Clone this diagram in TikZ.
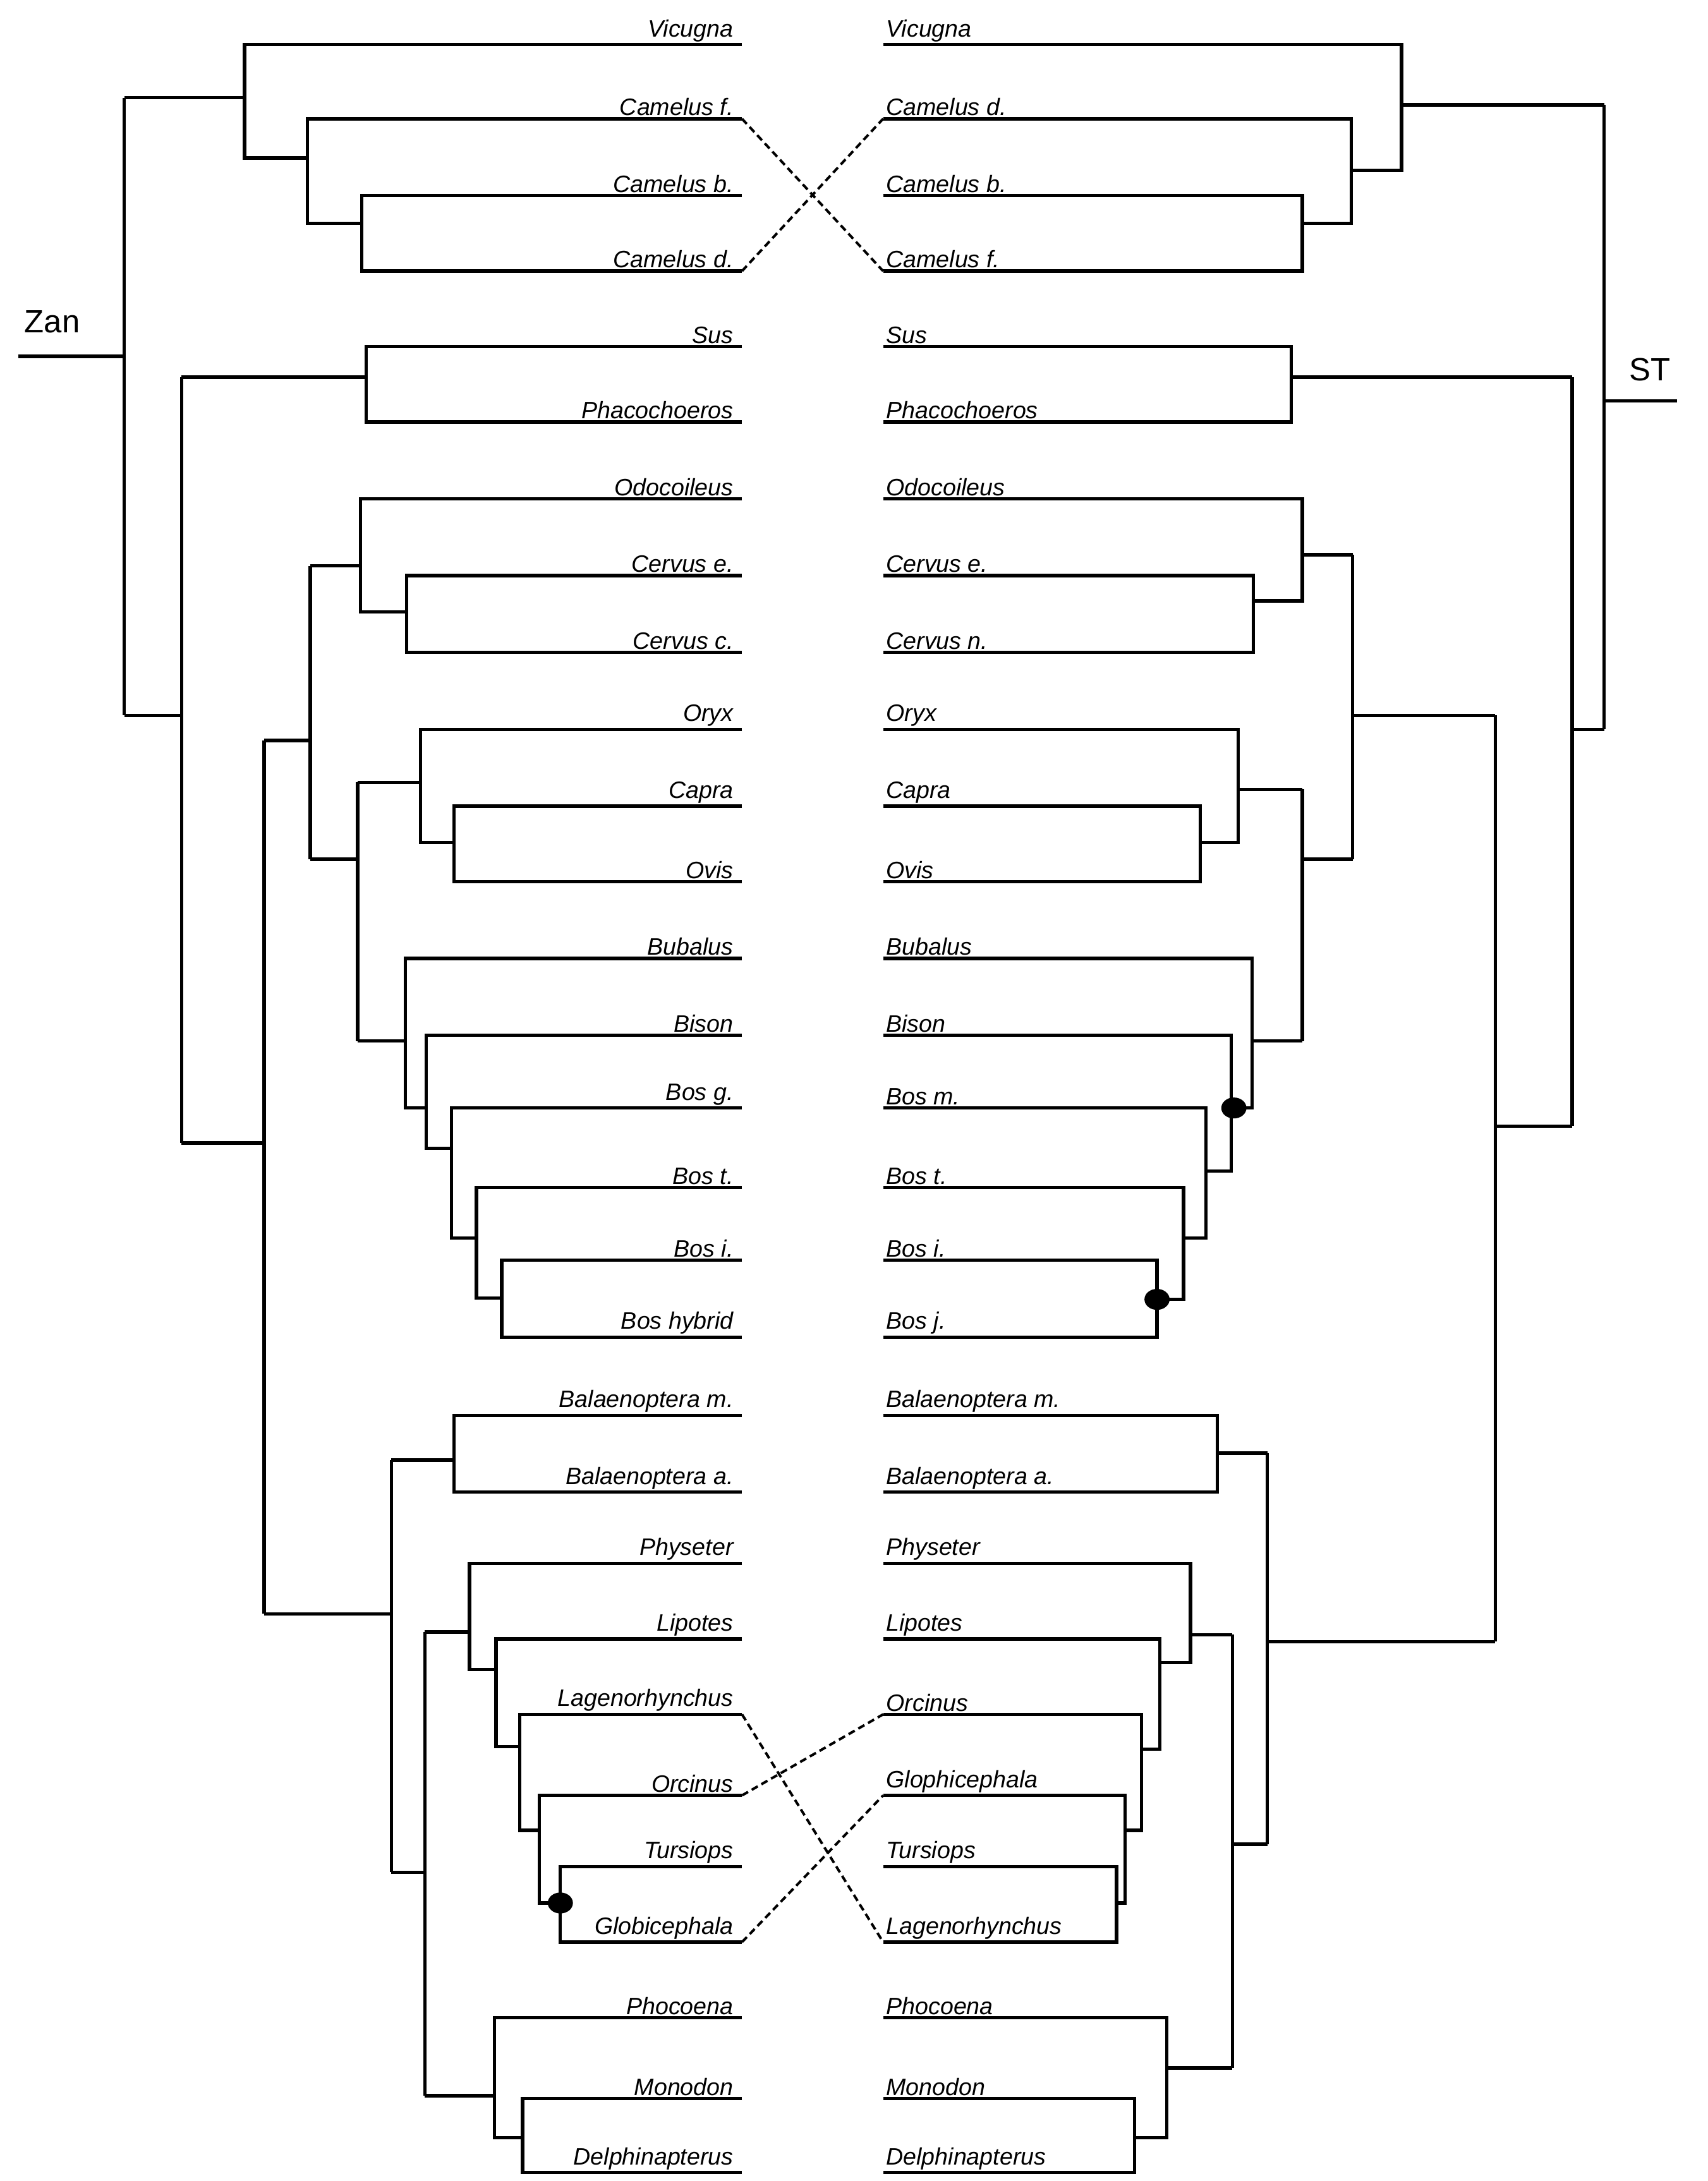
\documentclass[tikz,border=0pt]{standalone}
\usepackage{fontspec}
\setmainfont{Liberation Sans}
\begin{document}
\begin{tikzpicture}[x=1pt,y=-1pt,line width=2.4pt,
 tl/.style={anchor=south east,inner sep=1pt,font=\fontsize{17}{17}\selectfont\itshape},
 tr/.style={anchor=south west,inner sep=1pt,font=\fontsize{17}{17}\selectfont\itshape},
 dsh/.style={dashed,line width=1.8pt,dash pattern=on 5pt off 3pt},
 dot/.style={fill=black,ellipse,minimum width=0pt}]
\useasboundingbox (0,0) rectangle (1222,1561);
% ---------- left tree labels ----------
\foreach \y/\t in {32/Vicugna,85/Camelus f.,140/Camelus b.,194/Camelus d.,248/Sus,302/Phacochoeros,357/Odocoileus,412/Cervus e.,467/Cervus c.,522/Oryx,577/Capra,631/Ovis,686/Bubalus,741/Bison,793/Bos g.,850/Bos t.,902/Bos i.,957/Bos hybrid,1013/Balaenoptera m.,1068/Balaenoptera a.,1119/Physeter,1173/Lipotes,1227/Lagenorhynchus,1285/Orcinus,1336/Tursiops,1390/Globicephala,1444/Phocoena,1502/Monodon,1555/Delphinapterus}
  \node[tl] at (527,\y) {\t};
\foreach \y/\t in {32/Vicugna,85/Camelus d.,140/Camelus b.,194/Camelus f.,248/Sus,302/Phacochoeros,357/Odocoileus,412/Cervus e.,467/Cervus n.,522/Oryx,577/Capra,631/Ovis,686/Bubalus,741/Bison,793/Bos m.,850/Bos t.,902/Bos i.,957/Bos j.,1013/Balaenoptera m.,1068/Balaenoptera a.,1119/Physeter,1173/Lipotes,1227/Orcinus,1285/Glophicephala,1336/Tursiops,1390/Lagenorhynchus,1444/Phocoena,1502/Monodon,1555/Delphinapterus}
  \node[tr] at (632,\y) {\t};
\node[anchor=south west,font=\fontsize{23}{23}\selectfont] (zan) at (13,243) {Zan};
\node[anchor=south east,font=\fontsize{23}{23}\selectfont] (st) at (1200,277) {ST};
% ---------- left tree ----------
\draw (13,255) -- (89,255);
\draw (89,70) -- (89,512);
\draw (89,70) -- (175,70);
\draw (531,32) -- (175,32) -- (175,113) -- (220,113);
\draw (531,85) -- (220,85) -- (220,160) -- (259,160);
\draw (531,140) -- (259,140) -- (259,194) -- (531,194);
\draw (89,512) -- (130,512);
\draw (130,270) -- (130,818);
\draw (130,270) -- (262,270);
\draw (531,248) -- (262,248) -- (262,302) -- (531,302);
\draw (130,818) -- (189,818);
\draw (189,530) -- (189,1155);
\draw (189,530) -- (222,530);
\draw (222,405) -- (222,615);
\draw (222,405) -- (258,405);
\draw (531,357) -- (258,357) -- (258,438) -- (291,438);
\draw (531,412) -- (291,412) -- (291,467) -- (531,467);
\draw (222,615) -- (256,615);
\draw (256,560) -- (256,745);
\draw (256,560) -- (301,560);
\draw (531,522) -- (301,522) -- (301,603) -- (325,603);
\draw (531,577) -- (325,577) -- (325,631) -- (531,631);
\draw (256,745) -- (290,745);
\draw (531,686) -- (290,686) -- (290,793) -- (305,793);
\draw (531,741) -- (305,741) -- (305,822) -- (323,822);
\draw (531,793) -- (323,793) -- (323,886) -- (341,886);
\draw (531,850) -- (341,850) -- (341,929) -- (359,929);
\draw (531,902) -- (359,902) -- (359,957) -- (531,957);
\draw (189,1155) -- (280,1155);
\draw (280,1045) -- (280,1340);
\draw (280,1045) -- (325,1045);
\draw (531,1013) -- (325,1013) -- (325,1068) -- (531,1068);
\draw (280,1340) -- (304,1340);
\draw (304,1168) -- (304,1500);
\draw (304,1168) -- (336,1168);
\draw (531,1119) -- (336,1119) -- (336,1195) -- (355,1195);
\draw (531,1173) -- (355,1173) -- (355,1250) -- (372,1250);
\draw (531,1227) -- (372,1227) -- (372,1310) -- (386,1310);
\draw (531,1285) -- (386,1285) -- (386,1362) -- (401,1362);
\draw (531,1336) -- (401,1336) -- (401,1390) -- (531,1390);
\fill (401,1362) ellipse (9pt and 7.5pt);
\draw (304,1500) -- (354,1500);
\draw (531,1444) -- (354,1444) -- (354,1530) -- (374,1530);
\draw (531,1502) -- (374,1502) -- (374,1555) -- (531,1555);
% ---------- right tree ----------
\draw (1148,287) -- (1200,287);
\draw (1148,75) -- (1148,522);
\draw (1003,75) -- (1148,75);
\draw (632,32) -- (1003,32) -- (1003,122) -- (967,122);
\draw (632,85) -- (967,85) -- (967,160) -- (932,160);
\draw (632,140) -- (932,140) -- (932,194) -- (632,194);
\draw (1125,522) -- (1148,522);
\draw (1125,270) -- (1125,806);
\draw (924,270) -- (1125,270);
\draw (632,248) -- (924,248) -- (924,302) -- (632,302);
\draw (1070,806) -- (1125,806);
\draw (1070,512) -- (1070,1175);
\draw (968,512) -- (1070,512);
\draw (968,397) -- (968,615);
\draw (932,397) -- (968,397);
\draw (632,357) -- (932,357) -- (932,430) -- (897,430);
\draw (632,412) -- (897,412) -- (897,467) -- (632,467);
\draw (932,615) -- (968,615);
\draw (932,565) -- (932,745);
\draw (886,565) -- (932,565);
\draw (632,522) -- (886,522) -- (886,603) -- (859,603);
\draw (632,577) -- (859,577) -- (859,631) -- (632,631);
\draw (896,745) -- (932,745);
\draw (632,686) -- (896,686) -- (896,793) -- (881,793);
\draw (632,741) -- (881,741) -- (881,838) -- (863,838);
\draw (632,793) -- (863,793) -- (863,886) -- (847,886);
\draw (632,850) -- (847,850) -- (847,930) -- (828,930);
\draw (632,902) -- (828,902) -- (828,957) -- (632,957);
\fill (883,793) ellipse (9pt and 7.5pt);
\fill (828,930) ellipse (9pt and 7.5pt);
\draw (907,1175) -- (1070,1175);
\draw (907,1040) -- (907,1320);
\draw (871,1040) -- (907,1040);
\draw (632,1013) -- (871,1013) -- (871,1068) -- (632,1068);
\draw (882,1320) -- (907,1320);
\draw (882,1170) -- (882,1480);
\draw (852,1170) -- (882,1170);
\draw (632,1119) -- (852,1119) -- (852,1190) -- (830,1190);
\draw (632,1173) -- (830,1173) -- (830,1252) -- (817,1252);
\draw (632,1227) -- (817,1227) -- (817,1310) -- (805,1310);
\draw (632,1285) -- (805,1285) -- (805,1362) -- (799,1362);
\draw (632,1336) -- (799,1336) -- (799,1390) -- (632,1390);
\draw (835,1480) -- (882,1480);
\draw (632,1444) -- (835,1444) -- (835,1530) -- (812,1530);
\draw (632,1502) -- (812,1502) -- (812,1555) -- (632,1555);
% ---------- crossings ----------
\draw[dsh] (531,85) -- (632,194);
\draw[dsh] (531,194) -- (632,85);
\draw[dsh] (531,1227) -- (632,1390);
\draw[dsh] (531,1285) -- (632,1227);
\draw[dsh] (531,1390) -- (632,1285);
\end{tikzpicture}
\end{document}
